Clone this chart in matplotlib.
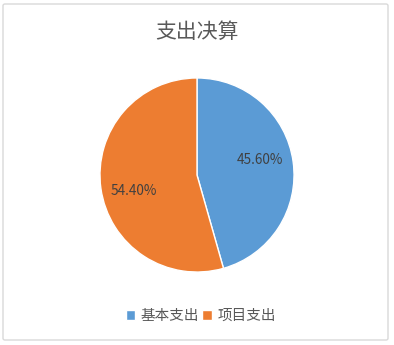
import matplotlib
matplotlib.use("Agg")
import matplotlib.pyplot as plt
from matplotlib.patches import FancyBboxPatch

plt.rcParams['font.family'] = ['Noto Sans CJK SC', 'DejaVu Sans']

# data
title = "支出决算"
categories = ["基本支出", "项目支出"]
values = [45.60, 54.40]
colors = ["#5B9BD5", "#ED7D31"]

fig = plt.figure(figsize=(3.94, 3.45), dpi=100)

# light border around the chart area
border = FancyBboxPatch((3 / 394, 5 / 345), 385 / 394, 336 / 345,
                        boxstyle="round,pad=0,rounding_size=0.005",
                        transform=fig.transFigure, fill=False,
                        edgecolor="#D9D9D9", linewidth=1.0)
fig.patches.append(border)

ax = fig.add_axes([(197 - 98) / 394, (170 - 98) / 345, 196 / 394, 196 / 345])
wedges, texts, autotexts = ax.pie(
    values, colors=colors, startangle=90, counterclock=False,
    autopct="%.2f%%", pctdistance=0.66,
    wedgeprops=dict(edgecolor="white", linewidth=1.0),
    textprops=dict(fontsize=9.8, color="#404040"))
ax.set_xlim(-1.01, 1.01)
ax.set_ylim(-1.01, 1.01)
ax.set_aspect("equal")

# nudge labels like the original (blue up, orange down)
for t, dy in zip(autotexts, [0.06, -0.07]):
    x, y = t.get_position()
    t.set_position((x, y + dy))

fig.text(0.5, 1 - 32 / 345, title, ha="center", va="center",
         fontsize=15, color="#595959")

fig.legend(wedges, categories, loc="center", bbox_to_anchor=(0.51, 1 - 316 / 345),
           ncol=2, frameon=False, fontsize=10.5, labelcolor="#595959",
           handlelength=0.65, handleheight=0.65, handletextpad=0.4,
           columnspacing=0.2)

fig.savefig("out.png", dpi=100)
